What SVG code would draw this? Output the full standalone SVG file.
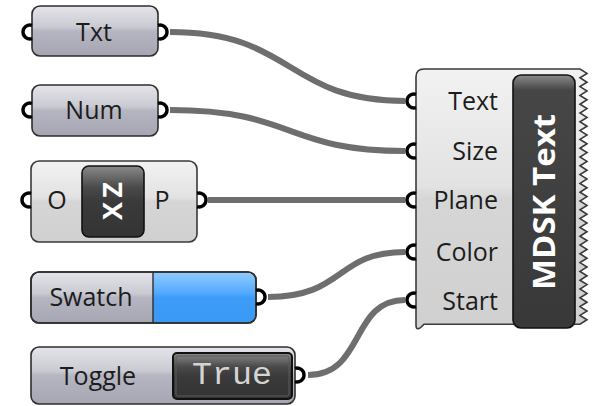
<svg xmlns="http://www.w3.org/2000/svg" width="598" height="406" viewBox="0 0 598 406">
<defs>
<linearGradient id="gParam" x1="0" y1="0" x2="0" y2="1">
<stop offset="0" stop-color="#e4e4ea"/>
<stop offset="0.42" stop-color="#cacad2"/>
<stop offset="0.5" stop-color="#b6b6c2"/>
<stop offset="1" stop-color="#a6a6b3"/>
</linearGradient>
<linearGradient id="gComp" x1="0" y1="0" x2="0" y2="1">
<stop offset="0" stop-color="#f2f2f2"/>
<stop offset="0.45" stop-color="#e2e2e2"/>
<stop offset="0.5" stop-color="#d6d6d6"/>
<stop offset="1" stop-color="#d0d0d0"/>
</linearGradient>
<linearGradient id="gDark" x1="0" y1="0" x2="0" y2="1">
<stop offset="0" stop-color="#8a8a8a"/>
<stop offset="0.3" stop-color="#4a4a4a"/>
<stop offset="0.5" stop-color="#3a3a3a"/>
<stop offset="1" stop-color="#343434"/>
</linearGradient>
<linearGradient id="gDarkTall" x1="0" y1="0" x2="0" y2="1">
<stop offset="0" stop-color="#8a8a8a"/>
<stop offset="0.06" stop-color="#464646"/>
<stop offset="1" stop-color="#383838"/>
</linearGradient>
<linearGradient id="gBlue" x1="0" y1="0" x2="0" y2="1">
<stop offset="0" stop-color="#8ccaff"/>
<stop offset="0.4" stop-color="#55aaff"/>
<stop offset="0.5" stop-color="#3d9cf8"/>
<stop offset="1" stop-color="#3a99f5"/>
</linearGradient>
</defs>
<style>
.param{fill:url(#gParam);stroke:#2e2e2e;stroke-width:1.6}
.comp{fill:url(#gComp);stroke:#3a3a3a;stroke-width:1.6}
.port{fill:none;stroke:#000;stroke-width:3.4}
.wire{fill:none;stroke:#6e6e6e;stroke-width:6}
.lbl{font-family:"Open Sans","Liberation Sans",sans-serif;font-size:25px;fill:#1c1c1c}
.title{font-family:"Open Sans","Liberation Sans",sans-serif;font-weight:bold;fill:#ffffff}
</style>
<g id="connectors">
<path class="wire" d="M170,32 C295,32 285,101 405,101"/>
<path class="wire" d="M170,110 C295,110 285,151 405,151"/>
<path class="wire" d="M208,200 L405,200"/>
<path class="wire" d="M268,297 C345,297 335,252 405,252"/>
<path class="wire" d="M308,375 C365,375 350,300 405,300"/>
</g>
<g id="txt">
<rect class="param" x="32" y="6" width="126" height="50" rx="8"/>
<path class="port" d="M32,25.3 A7,7 0 1 0 32,38.7"/>
<path class="port" d="M158,25.3 A7,7 0 1 1 158,38.7"/>
<text class="lbl" x="94" y="41" text-anchor="middle">Txt</text>
</g>
<g id="num">
<rect class="param" x="32" y="85" width="126" height="51" rx="8"/>
<path class="port" d="M32,103.3 A7,7 0 1 0 32,116.7"/>
<path class="port" d="M158,103.3 A7,7 0 1 1 158,116.7"/>
<text class="lbl" x="94" y="119" text-anchor="middle">Num</text>
</g>
<g id="xz">
<rect class="comp" x="31" y="161" width="166" height="81" rx="8"/>
<path class="port" d="M31,193.3 A7,7 0 1 0 31,206.7"/>
<path class="port" d="M197,193.3 A7,7 0 1 1 197,206.7"/>
<rect x="82" y="166" width="62" height="71" rx="7" fill="url(#gDark)" stroke="#111" stroke-width="1.6"/>
<text class="lbl" x="57" y="209" text-anchor="middle">O</text>
<text class="lbl" x="162" y="209" text-anchor="middle">P</text>
<text class="title" font-size="27" transform="translate(122,201) rotate(-90)" text-anchor="middle" textLength="38" lengthAdjust="spacing">XZ</text>
</g>
<g id="swatch">
<rect class="param" x="31" y="272" width="225" height="51" rx="8"/>
<path d="M153,273 H248 Q255,273 255,280 V315 Q255,322 248,322 H153 Z" fill="url(#gBlue)"/>
<rect x="31" y="272" width="225" height="51" rx="8" fill="none" stroke="#2e2e2e" stroke-width="1.6"/>
<line x1="153" y1="272" x2="153" y2="323" stroke="#2e2e2e" stroke-width="1.4"/>
<path class="port" d="M256,290.3 A7,7 0 1 1 256,303.7"/>
<text class="lbl" x="91" y="306" text-anchor="middle">Swatch</text>
</g>
<g id="toggle">
<rect class="param" x="31" y="347" width="264" height="57" rx="8"/>
<rect x="173" y="353" width="119" height="46" rx="4" fill="url(#gDark)" stroke="#111" stroke-width="2"/>
<rect x="176" y="356" width="113" height="40" rx="2" fill="none" stroke="#5a5a5a" stroke-width="1"/>
<path class="port" d="M295,368.3 A7,7 0 1 1 295,381.7"/>
<text class="lbl" x="98" y="385" text-anchor="middle">Toggle</text>
<text x="232" y="384" text-anchor="middle" font-family="'Liberation Mono',monospace" font-size="31" fill="#d4d4d4" textLength="80" lengthAdjust="spacingAndGlyphs">True</text>
</g>
<g id="mdsk-text">
<path class="comp" d="M416,77 Q416,69 424,69 H580 l7 4.4 -7 4.4 7 4.4 -7 4.4 7 4.4 -7 4.4 7 4.4 -7 4.4 7 4.4 -7 4.4 7 4.4 -7 4.4 7 4.4 -7 4.4 7 4.4 -7 4.4 7 4.4 -7 4.4 7 4.4 -7 4.4 7 4.4 -7 4.4 7 4.4 -7 4.4 7 4.4 -7 4.4 7 4.4 -7 4.4 7 4.4 -7 4.4 7 4.4 -7 4.4 7 4.4 -7 4.4 7 4.4 -7 4.4 7 4.4 -7 4.4 7 4.4 -7 4.4 7 4.4 -7 4.4 7 4.4 -7 4.4 7 4.4 -7 4.4 7 4.4 -7 4.4 7 4.4 -7 4.4 7 4.4 -7 4.4 7 4.4 -7 4.4 7 4.4 -7 4.4 7 4.4 -7 4.4 H424 Q416,333 416,325 Z"/>
<rect x="513" y="75" width="62" height="253" rx="8" fill="url(#gDarkTall)" stroke="#111" stroke-width="1.6"/>
<path class="port" d="M416,94.3 A7,7 0 1 0 416,107.7"/>
<path class="port" d="M416,144.3 A7,7 0 1 0 416,157.7"/>
<path class="port" d="M416,193.3 A7,7 0 1 0 416,206.7"/>
<path class="port" d="M416,245.3 A7,7 0 1 0 416,258.7"/>
<path class="port" d="M416,293.3 A7,7 0 1 0 416,306.7"/>
<text class="lbl" x="498" y="110" text-anchor="end">Text</text>
<text class="lbl" x="498" y="160" text-anchor="end">Size</text>
<text class="lbl" x="498" y="209" text-anchor="end">Plane</text>
<text class="lbl" x="498" y="261" text-anchor="end">Color</text>
<text class="lbl" x="498" y="310" text-anchor="end">Start</text>
<text class="title" font-size="30" transform="translate(555,202) rotate(-90)" text-anchor="middle" textLength="176" lengthAdjust="spacingAndGlyphs">MDSK Text</text>
</g>
</svg>
